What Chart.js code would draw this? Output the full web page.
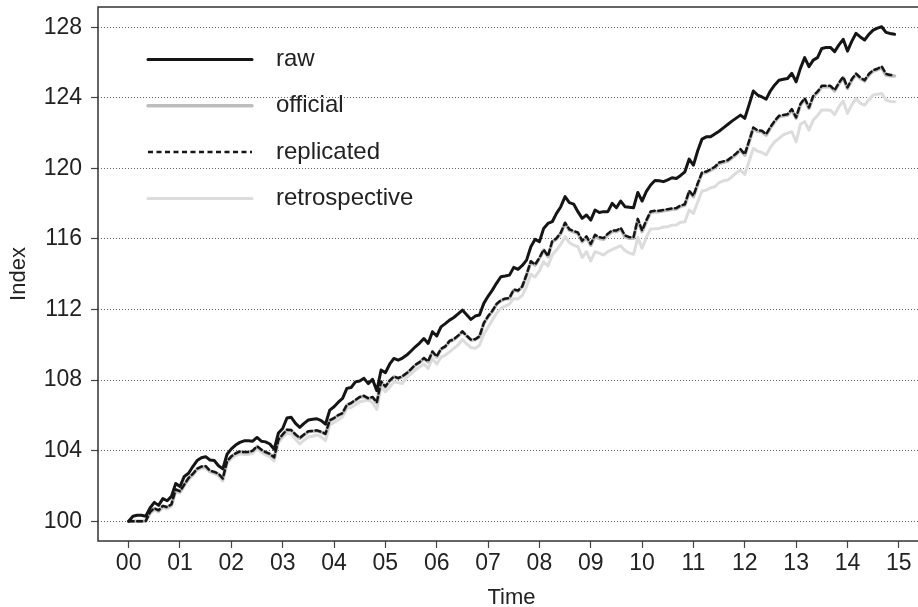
<!DOCTYPE html>
<html>
<head>
<meta charset="utf-8">
<script src="https://cdn.jsdelivr.net/npm/chart.js@4"></script>
<style>
  html, body { margin: 0; padding: 0; background: #fff; overflow: hidden; }
  #wrap { width: 918px; height: 607px; overflow: hidden; }
  canvas { display: block; }
</style>
</head>
<body>
<div id="wrap"><canvas id="chart" width="945" height="611"></canvas></div>
<script>
// monthly index values, Jan 2000 .. Dec 2014 (one row per year)
const raw = [
  100.00, 100.28, 100.34, 100.34, 100.28, 100.75, 101.07, 100.90, 101.28, 101.16, 101.41, 102.14,
  101.97, 102.54, 102.72, 103.10, 103.44, 103.60, 103.66, 103.47, 103.44, 103.15, 102.97, 103.80,
  104.10, 104.32, 104.47, 104.56, 104.56, 104.54, 104.75, 104.54, 104.50, 104.38, 104.08, 105.00,
  105.26, 105.85, 105.89, 105.55, 105.32, 105.55, 105.74, 105.78, 105.81, 105.70, 105.50, 106.30,
  106.49, 106.75, 106.96, 107.53, 107.58, 107.90, 107.95, 108.10, 107.80, 108.04, 107.40, 108.57,
  108.42, 108.90, 109.23, 109.13, 109.25, 109.42, 109.65, 109.89, 110.10, 110.36, 110.08, 110.74,
  110.50, 111.02, 111.20, 111.40, 111.55, 111.75, 111.97, 111.70, 111.44, 111.63, 111.69, 112.35,
  112.75, 113.10, 113.50, 113.86, 113.90, 113.95, 114.39, 114.28, 114.50, 114.80, 115.56, 115.98,
  115.84, 116.60, 116.88, 116.98, 117.45, 117.83, 118.40, 118.06, 117.98, 117.55, 117.17, 117.36,
  117.07, 117.64, 117.50, 117.55, 117.55, 118.02, 117.77, 118.15, 117.83, 117.80, 117.77, 118.64,
  118.15, 118.70, 119.06, 119.32, 119.30, 119.25, 119.35, 119.47, 119.43, 119.60, 119.81, 120.53,
  120.19, 121.00, 121.66, 121.79, 121.79, 121.95, 122.11, 122.30, 122.49, 122.68, 122.85, 123.02,
  122.84, 123.60, 124.39, 124.16, 124.05, 123.93, 124.40, 124.73, 125.00, 125.05, 125.10, 125.39,
  124.91, 125.67, 126.28, 125.77, 126.14, 126.28, 126.80, 126.85, 126.86, 126.62, 127.00, 127.32,
  126.65, 127.20, 127.66, 127.45, 127.28, 127.60, 127.84, 127.95, 128.03, 127.71, 127.65, 127.60
];
const official = [
  100.00, 100.00, 100.00, 100.00, 100.02, 100.50, 100.72, 100.60, 100.85, 100.79, 100.94, 101.78,
  101.69, 102.07, 102.44, 102.67, 102.97, 103.08, 103.10, 102.85, 102.78, 102.67, 102.40, 103.38,
  103.66, 103.83, 103.94, 103.90, 103.90, 103.98, 104.23, 104.04, 103.90, 103.80, 103.60, 104.60,
  104.90, 105.17, 105.15, 104.90, 104.70, 104.90, 105.08, 105.10, 105.13, 105.05, 104.94, 105.70,
  105.83, 106.00, 106.11, 106.58, 106.68, 106.85, 107.02, 107.09, 106.95, 107.02, 106.72, 107.90,
  107.62, 107.95, 108.19, 108.09, 108.20, 108.38, 108.60, 108.85, 109.00, 109.23, 109.04, 109.60,
  109.32, 109.75, 109.89, 110.20, 110.30, 110.50, 110.74, 110.50, 110.27, 110.30, 110.46, 111.21,
  111.60, 111.90, 112.30, 112.50, 112.60, 112.63, 113.10, 113.05, 113.29, 113.95, 114.71, 114.52,
  114.90, 115.37, 115.00, 115.84, 116.00, 116.32, 116.88, 116.50, 116.40, 116.32, 115.84, 116.09,
  115.65, 116.17, 116.03, 115.98, 116.23, 116.42, 116.42, 116.57, 116.13, 116.04, 116.04, 117.08,
  116.42, 117.00, 117.51, 117.55, 117.55, 117.60, 117.64, 117.68, 117.70, 117.85, 117.92, 118.68,
  118.40, 119.10, 119.72, 119.77, 119.90, 120.04, 120.28, 120.35, 120.42, 120.60, 120.80, 121.04,
  120.75, 121.50, 122.27, 122.11, 122.08, 121.89, 122.30, 122.65, 122.93, 122.98, 123.02, 123.31,
  122.84, 123.60, 123.93, 123.40, 124.06, 124.30, 124.63, 124.63, 124.63, 124.39, 124.80, 125.14,
  124.54, 125.00, 125.33, 125.10, 124.95, 125.30, 125.52, 125.60, 125.71, 125.29, 125.25, 125.24
];
const replicated = [
  100.00, 100.00, 100.00, 100.00, 100.02, 100.52, 100.74, 100.62, 100.87, 100.80, 100.96, 101.80,
  101.70, 102.08, 102.45, 102.68, 102.98, 103.10, 103.12, 102.87, 102.80, 102.70, 102.42, 103.40,
  103.68, 103.85, 103.96, 103.92, 103.92, 104.00, 104.25, 104.06, 103.92, 103.82, 103.62, 104.62,
  104.92, 105.19, 105.17, 104.92, 104.72, 104.92, 105.10, 105.12, 105.15, 105.07, 104.96, 105.72,
  105.85, 106.02, 106.13, 106.60, 106.70, 106.87, 107.04, 107.11, 106.97, 107.04, 106.74, 107.92,
  107.64, 107.97, 108.21, 108.11, 108.22, 108.40, 108.62, 108.87, 109.02, 109.25, 109.06, 109.62,
  109.34, 109.77, 109.91, 110.22, 110.32, 110.52, 110.76, 110.52, 110.29, 110.32, 110.48, 111.23,
  111.62, 111.92, 112.32, 112.52, 112.62, 112.66, 113.13, 113.08, 113.32, 113.98, 114.74, 114.55,
  114.93, 115.40, 115.03, 115.87, 116.04, 116.36, 116.92, 116.55, 116.45, 116.37, 115.90, 116.15,
  115.72, 116.24, 116.10, 116.05, 116.30, 116.48, 116.48, 116.63, 116.20, 116.10, 116.10, 117.14,
  116.48, 117.06, 117.56, 117.60, 117.60, 117.65, 117.69, 117.73, 117.75, 117.90, 117.97, 118.73,
  118.45, 119.15, 119.77, 119.82, 119.95, 120.09, 120.33, 120.40, 120.47, 120.65, 120.85, 121.09,
  120.80, 121.55, 122.32, 122.16, 122.13, 121.94, 122.35, 122.70, 122.98, 123.03, 123.07, 123.36,
  122.89, 123.65, 123.98, 123.45, 124.11, 124.35, 124.68, 124.68, 124.68, 124.44, 124.85, 125.19,
  124.59, 125.05, 125.38, 125.15, 125.00, 125.35, 125.57, 125.65, 125.78, 125.36, 125.30, 125.30
];
const retrospective = [
  100.00,  99.98,  99.98,  99.98, 100.00, 100.42, 100.65, 100.52, 100.78, 100.70, 100.86, 101.68,
  101.60, 101.98, 102.35, 102.60, 102.90, 103.00, 103.02, 102.78, 102.70, 102.58, 102.28, 103.28,
  103.56, 103.72, 103.82, 103.78, 103.78, 103.85, 104.10, 103.90, 103.76, 103.65, 103.42, 104.45,
  104.75, 104.98, 104.95, 104.65, 104.38, 104.60, 104.79, 104.82, 104.89, 104.78, 104.57, 105.45,
  105.60, 105.75, 105.92, 106.40, 106.45, 106.60, 106.77, 106.82, 106.87, 106.72, 106.34, 107.62,
  107.34, 107.60, 107.90, 107.85, 107.81, 108.15, 108.35, 108.57, 108.75, 108.91, 108.66, 109.23,
  108.90, 109.30, 109.42, 109.60, 109.80, 110.00, 110.30, 110.05, 109.85, 109.80, 109.98, 110.60,
  111.00, 111.40, 111.80, 112.06, 112.20, 112.31, 112.63, 112.60, 112.80, 113.30, 114.00, 113.85,
  114.20, 114.71, 114.47, 115.10, 115.37, 115.70, 116.13, 115.80, 115.65, 115.56, 114.95, 115.28,
  114.75, 115.28, 115.20, 115.09, 115.28, 115.40, 115.51, 115.62, 115.35, 115.20, 115.13, 116.08,
  115.47, 116.10, 116.57, 116.58, 116.60, 116.68, 116.70, 116.78, 116.79, 116.95, 116.98, 117.64,
  117.45, 118.10, 118.72, 118.77, 118.90, 118.96, 119.20, 119.30, 119.34, 119.53, 119.75, 119.90,
  119.66, 120.40, 121.13, 120.98, 120.90, 120.76, 121.20, 121.51, 121.70, 121.90, 122.00, 122.08,
  121.51, 122.50, 122.65, 122.17, 122.74, 123.00, 123.31, 123.31, 123.30, 123.06, 123.50, 123.82,
  123.12, 123.60, 123.97, 123.70, 123.59, 123.90, 124.16, 124.20, 124.25, 123.88, 123.80, 123.78
];
const yearLabels = ['00', '01', '02', '03', '04', '05', '06', '07', '08', '09', '10', '11', '12', '13', '14', '15'];
const indexTicks = [100, 104, 108, 112, 116, 120, 124, 128];

const FONT = "'Liberation Sans', Arial, Helvetica, sans-serif";
Chart.defaults.font.family = FONT;
Chart.defaults.color = '#222';

// x is the time in years after Jan 2000
const toPoints = arr => arr.map((v, i) => ({ x: i / 12, y: v }));

// frame around the plot and the R-style legend in the top left corner
const framePlugin = {
  id: 'framePlugin',
  afterDatasetsDraw(chart) {
    const { ctx, chartArea: a } = chart;
    ctx.save();
    ctx.strokeStyle = '#333';
    ctx.lineWidth = 1.5;
    ctx.strokeRect(a.left, a.top, a.right - a.left, a.bottom - a.top);

    const x0 = a.left + 50, x1 = x0 + 104, tx = a.left + 178;
    let y = a.top + 52.5;
    ctx.font = '24px ' + FONT;
    ctx.textBaseline = 'middle';
    ctx.textAlign = 'left';
    chart.data.datasets.forEach(ds => {
      ctx.beginPath();
      ctx.strokeStyle = ds.borderColor;
      ctx.lineWidth = ds.borderWidth;
      ctx.setLineDash(ds.borderDash || []);
      ctx.lineCap = ds.borderDash ? 'butt' : 'round';
      ctx.moveTo(x0, y);
      ctx.lineTo(x1, y);
      ctx.stroke();
      ctx.setLineDash([]);
      ctx.fillStyle = '#222';
      ctx.fillText(ds.label, tx, y);
      y += 46.3;
    });
    ctx.restore();
  }
};

const ctx = document.getElementById('chart').getContext('2d');
new Chart(ctx, {
  type: 'line',
  data: {
    datasets: [
      { label: 'raw', data: toPoints(raw), borderColor: '#151515', borderWidth: 3, order: 0 },
      { label: 'official', data: toPoints(official), borderColor: '#bdbdbd', borderWidth: 3.5, order: 2 },
      { label: 'replicated', data: toPoints(replicated), borderColor: '#151515', borderWidth: 2.5, borderDash: [5, 3.5], order: 1 },
      { label: 'retrospective', data: toPoints(retrospective), borderColor: '#dcdcdc', borderWidth: 3, order: 3 }
    ]
  },
  options: {
    responsive: false,
    animation: false,
    parsing: false,
    elements: {
      point: { radius: 0 },
      line: { tension: 0, borderCapStyle: 'round', borderJoinStyle: 'round' }
    },
    layout: { padding: { top: 7, right: 20, left: 0, bottom: 0 } },
    plugins: {
      legend: { display: false },
      tooltip: { enabled: false }
    },
    scales: {
      x: {
        type: 'linear',
        min: -0.597,
        max: 15.51,
        afterBuildTicks: scale => { scale.ticks = yearLabels.map((t, i) => ({ value: i })); },
        afterFit: scale => { scale.height = 70; scale.paddingLeft = 0; scale.paddingRight = 0; },
        ticks: {
          autoSkip: false,
          maxRotation: 0,
          padding: 2,
          color: '#222',
          font: { size: 23 },
          callback: v => yearLabels[v]
        },
        grid: { drawOnChartArea: false, drawTicks: true, tickLength: 7, tickColor: '#444', tickWidth: 1.2 },
        border: { display: false },
        title: { display: true, text: 'Time', color: '#222', font: { size: 22 }, padding: { top: 0, bottom: 0 } }
      },
      y: {
        type: 'linear',
        min: 98.88,
        max: 129.15,
        afterBuildTicks: scale => { scale.ticks = indexTicks.map(v => ({ value: v })); },
        afterFit: scale => { scale.width = 98; scale.paddingTop = 0; scale.paddingBottom = 0; },
        ticks: { padding: 9, color: '#222', font: { size: 23 } },
        grid: { color: '#666', lineWidth: 1, drawTicks: true, tickLength: 7, tickColor: '#444', tickWidth: 1.2 },
        border: { display: false, dash: [1, 2] },
        title: { display: true, text: 'Index', color: '#222', font: { size: 22 }, padding: { top: 6, bottom: 0 } }
      }
    }
  },
  plugins: [framePlugin]
});
</script>
</body>
</html>
